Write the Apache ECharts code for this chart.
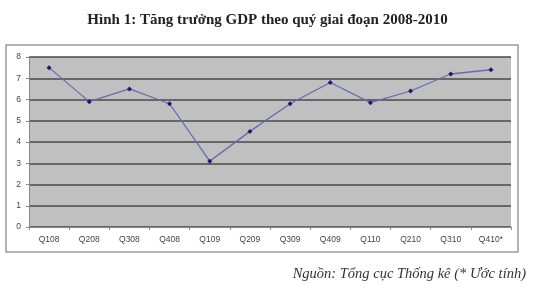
<!DOCTYPE html>
<html><head><meta charset="utf-8">
<script src="https://cdn.jsdelivr.net/npm/echarts@6/dist/echarts.min.js"></script>
<style>html,body{margin:0;padding:0;background:#fff}#c{width:535px;height:297px}</style>
</head><body><div id="c"></div>
<script>
const categories = ['Q108','Q208','Q308','Q408','Q109','Q209','Q309','Q409','Q110','Q210','Q310','Q410*'];
const gdpGrowth = [7.5, 5.9, 6.5, 5.8, 3.1, 4.5, 5.8, 6.8, 5.85, 6.4, 7.2, 7.4];
const yTicks = [0,1,2,3,4,5,6,7,8];
const titleText = 'Hình 1: Tăng trưởng GDP theo quý giai đoạn 2008-2010';
const sourceText = 'Nguồn: Tổng cục Thống kê (* Ước tính)';

const chart = echarts.init(document.getElementById('c'), null, {renderer:'canvas'});
chart.setOption({
  animation:false,
  backgroundColor:'#fff',
  title:[{text:titleText,left:'center',top:8,textStyle:{fontFamily:'Liberation Serif',fontWeight:'bold',fontSize:15,color:'#222'}},
         {text:sourceText,right:4,top:262,textStyle:{fontFamily:'Liberation Serif',fontStyle:'italic',fontWeight:'normal',fontSize:14.5,color:'#333'}}],
  graphic:[{type:'rect',shape:{x:6,y:45,width:512,height:207},style:{fill:'none',stroke:'#9a9a9a',lineWidth:1.5},z:0}],
  grid:{left:29,right:24,top:57,bottom:70,show:true,backgroundColor:'#c0c0c0',borderWidth:0},
  xAxis:{type:'category',data:categories,boundaryGap:true,
    axisLine:{lineStyle:{color:'#888'}},axisTick:{show:true,lineStyle:{color:'#888'},length:3},
    axisLabel:{fontFamily:'Liberation Sans',fontSize:8.5,color:'#444',margin:8},splitLine:{show:false}},
  yAxis:{type:'value',min:yTicks[0],max:yTicks[yTicks.length-1],interval:1,
    axisLine:{show:true,lineStyle:{color:'#888'}},axisTick:{show:true,length:3,lineStyle:{color:'#888'}},
    axisLabel:{fontFamily:'Liberation Sans',fontSize:8.5,color:'#444',margin:8},
    splitLine:{show:true,lineStyle:{color:'#4a4a4a',width:1.5}}},
  series:[{type:'line',data:gdpGrowth,symbol:'diamond',symbolSize:5,
    lineStyle:{color:'#6a6ab0',width:1.3},itemStyle:{color:'#1a1a6e'}}]
});
</script></body></html>
